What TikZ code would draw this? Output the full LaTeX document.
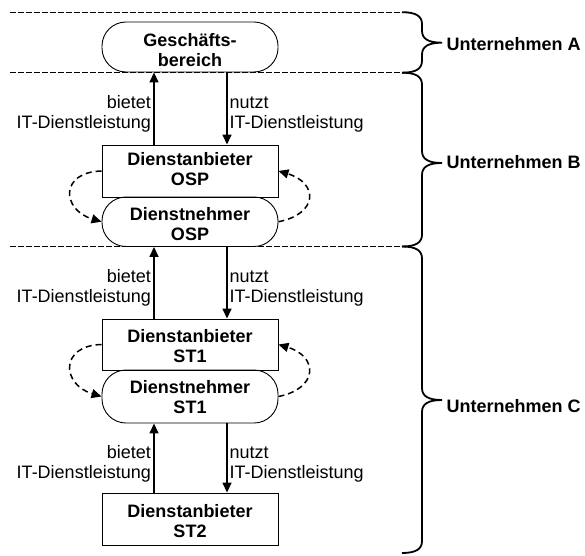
\documentclass[tikz,border=0pt]{standalone}
\usepackage{fontspec}
\setmainfont{Liberation Sans}
\usetikzlibrary{arrows.meta,calc}

% two-line texts: centred (baseline on the last line), right/left aligned (baseline on the first line)
\newcommand\stackc[2]{\begin{tabular}[b]{@{}c@{}}#1\\#2\end{tabular}}
\newcommand\stackr[2]{\begin{tabular}[t]{@{}r@{}}#1\\#2\end{tabular}}
\newcommand\stackl[2]{\begin{tabular}[t]{@{}l@{}}#1\\#2\end{tabular}}

% curly brace on the right: x, top y, bottom y, y of the tip
\newcommand\sidebrace[4]{%
  \draw[bracestyle] (#1,#2) .. controls +(14,0) and +(0,8) .. (#1+20,#2-12)
    -- (#1+20,#4+12) .. controls +(0,-8) and +(-14,0) .. (#1+40,#4)
    .. controls +(-14,0) and +(0,8) .. (#1+20,#4-12)
    -- (#1+20,#3+12) .. controls +(0,-8) and +(14,0) .. (#1,#3);}

\begin{document}
\begin{tikzpicture}[x=1pt,y=1pt,
  txt/.style={font=\fontsize{18pt}{20pt}\selectfont, inner sep=0pt},
  boldtxt/.style={font=\fontsize{18pt}{20pt}\selectfont\bfseries, inner sep=0pt},
  provider/.style={boldtxt, draw, line width=0.9pt, minimum width=176pt, text depth=0pt},
  consumer/.style={provider, rounded corners=24pt},
  flow/.style={line width=1.5pt, -{Triangle[length=10pt,width=9pt]}},
  selfuse/.style={line width=1.5pt, dash pattern=on 6pt off 4pt, -{Triangle[length=10pt,width=9pt]}},
  sep/.style={line width=1.3pt, dash pattern=on 5.5pt off 2.5pt},
  bracestyle/.style={line width=1.8pt}]
\useasboundingbox (0,0) rectangle (585,555);

% company boundaries
\draw[sep] (10,542.8) -- (402,542.8);
\draw[sep] (10,482.3) -- (402,482.3);
\draw[sep] (10,308.5) -- (402,308.5);

% service chain
\node[consumer, minimum height=50pt, text height=38.6pt] (gb) at (190,508) {\stackc{Geschäfts-}{bereich}};
\node[provider, minimum height=52pt, text height=29.4pt] (aosp) at (190,384) {\stackc{Dienstanbieter}{OSP}};
\node[consumer, minimum height=49.5pt, text height=36.5pt] (nosp) at (190,333.25) {\stackc{Dienstnehmer}{OSP}};
\node[provider, minimum height=51pt, text height=36pt] (ast1) at (190,210.5) {\stackc{Dienstanbieter}{ST1}};
\node[consumer, minimum height=53pt, text height=33.6pt] (nst1) at (190,158.5) {\stackc{Dienstnehmer}{ST1}};
\node[provider, minimum height=52pt, text height=37.4pt] (ast2) at (190,36) {\stackc{Dienstanbieter}{ST2}};

% offered / used services
\draw[flow] ([xshift=-36pt]aosp.north) -- ([xshift=-36pt]gb.south);
\draw[flow] ([xshift=37pt]gb.south) -- ([xshift=37pt]aosp.north);
\draw[flow] ([xshift=-36pt]ast1.north) -- ([xshift=-36pt]nosp.south);
\draw[flow] ([xshift=37pt]nosp.south) -- ([xshift=37pt]ast1.north);
\draw[flow] ([xshift=-36pt]ast2.north) -- ([xshift=-36pt]nst1.south);
\draw[flow] ([xshift=37pt]nst1.south) -- ([xshift=37pt]ast2.north);

\node[txt, anchor=base east] (offerB) at ($(aosp.north)!0.5!(gb.south)+(-39,0)$) {\stackr{bietet}{IT-Dienstleistung}};
\node[txt, anchor=base west] (useB) at ($(aosp.north)!0.5!(gb.south)+(39.5,0)$) {\stackl{nutzt}{IT-Dienstleistung}};
\node[txt, anchor=base east] (offerC1) at ($(ast1.north)!0.5!(nosp.south)+(-39,0)$) {\stackr{bietet}{IT-Dienstleistung}};
\node[txt, anchor=base west] (useC1) at ($(ast1.north)!0.5!(nosp.south)+(39.5,0)$) {\stackl{nutzt}{IT-Dienstleistung}};
\node[txt, anchor=base east] (offerC2) at ($(ast2.north)!0.5!(nst1.south)+(-39,0)$) {\stackr{bietet}{IT-Dienstleistung}};
\node[txt, anchor=base west] (useC2) at ($(ast2.north)!0.5!(nst1.south)+(39.5,0)$) {\stackl{nutzt}{IT-Dienstleistung}};

% internal provider/consumer cycles
\draw[selfuse] (aosp.west) .. controls +(-42,-1) and +(-40,12) .. (nosp.west);
\draw[selfuse] (nosp.east) .. controls +(40,8) and +(40,-12) .. (aosp.east);
\draw[selfuse] (ast1.west) .. controls +(-42,-1) and +(-40,12) .. (nst1.west);
\draw[selfuse] (nst1.east) .. controls +(40,8) and +(40,-12) .. (ast1.east);

% companies
\sidebrace{402}{542.8}{482.3}{512.3}
\sidebrace{402}{482.3}{308.5}{392}
\sidebrace{402}{308.5}{2}{155}
\node[boldtxt, anchor=base west] (ua) at (446.5,504.3) {Unternehmen A};
\node[boldtxt, anchor=base west] (ub) at (446.5,386.7) {Unternehmen B};
\node[boldtxt, anchor=base west] (uc) at (446.5,142.3) {Unternehmen C};
\end{tikzpicture}
\end{document}
